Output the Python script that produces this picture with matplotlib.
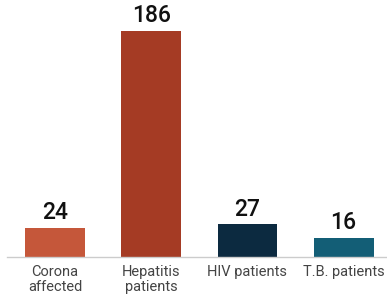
import matplotlib
matplotlib.use("Agg")
import matplotlib.pyplot as plt

categories = ["Corona\naffected", "Hepatitis\npatients", "HIV patients", "T.B. patients"]
values = [24, 186, 27, 16]
colors = ["#c5573a", "#a53b24", "#0c2a40", "#135e76"]

plt.rcParams['font.family'] = ['Roboto', 'DejaVu Sans']

fig = plt.figure(figsize=(3.87, 2.95), dpi=100)
ax = fig.add_axes([7 / 387, 1 - 257 / 295, 380 / 387, 257 / 295])

x = range(len(values))
bars = ax.bar(x, values, width=0.62, color=colors)

for xi, v in zip(x, values):
    ax.text(xi, v + 3, str(v), ha='center', va='bottom', fontsize=16.5,
            fontweight='medium', color='#111111')

ax.set_xlim(-0.498, 3.45)
ax.set_ylim(0, 211.5)
ax.set_yticks([])
ax.set_xticks(list(x))
ax.set_xticklabels(categories, fontsize=10.5, color='#444444', linespacing=1.1)
ax.tick_params(axis='x', length=0, pad=5.5)

for side in ['top', 'right', 'left']:
    ax.spines[side].set_visible(False)
ax.spines['bottom'].set_color('#cccccc')
ax.spines['bottom'].set_linewidth(1)

fig.savefig("out.png", dpi=100)
